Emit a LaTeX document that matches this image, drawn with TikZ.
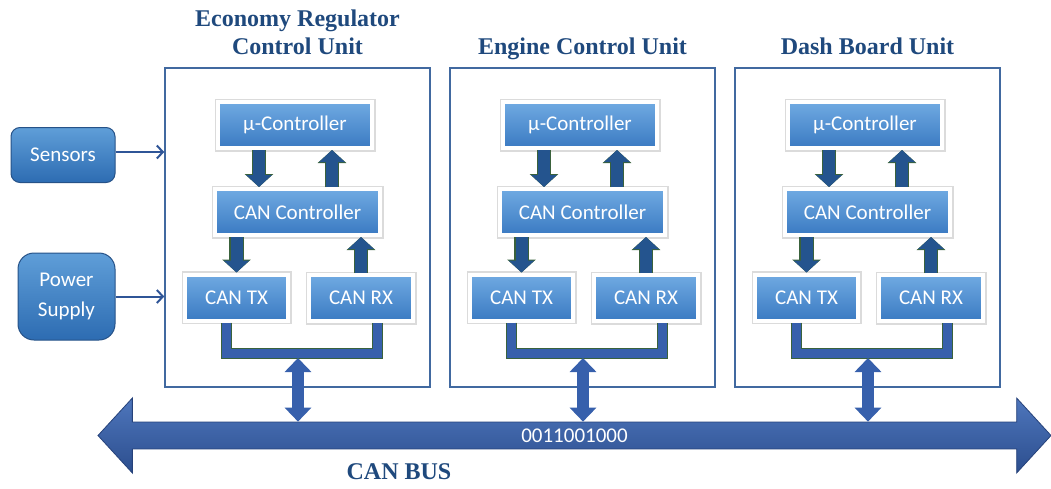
\documentclass[tikz,border=0pt]{standalone}
\usepackage{fontspec}
\setmainfont{Carlito}
\newfontfamily\titlefont{Liberation Serif}
\usepackage{tikz}
\usetikzlibrary{positioning,arrows.meta,shapes.arrows,shadows}

\definecolor{titleblue}{RGB}{31,73,125}
\definecolor{unitline}{RGB}{65,105,160}
\definecolor{boxtop}{RGB}{112,170,226}
\definecolor{boxbot}{RGB}{58,122,194}
\definecolor{sidetop}{RGB}{95,158,216}
\definecolor{sidebot}{RGB}{45,108,178}
\definecolor{sideline}{RGB}{38,82,136}
\definecolor{flowblue}{RGB}{36,84,142}
\definecolor{flowgreen}{RGB}{58,98,60}
\definecolor{feedblue}{RGB}{47,85,151}
\definecolor{bustop}{RGB}{78,118,188}
\definecolor{busbot}{RGB}{44,78,142}
\definecolor{busline}{RGB}{38,66,122}
\definecolor{linkblue}{RGB}{55,96,172}

\begin{document}
\begin{tikzpicture}[x=1pt,y=-1pt,
    unit/.style={draw=unitline, line width=1.5pt, minimum width=265pt, minimum height=319pt},
    title/.style={font=\titlefont\bfseries\fontsize{24}{28}\selectfont, text=titleblue, align=center,
                  inner sep=0pt, text depth=0pt},
    blk/.style={draw=white, line width=4pt, top color=boxtop, bottom color=boxbot, text=white,
                minimum height=46pt, outer sep=2pt, font=\fontsize{21}{25}\selectfont,
                preaction={draw=black!14, line width=7pt},
                drop shadow={opacity=0.3, shadow xshift=1.5pt, shadow yshift=-1.5pt}},
    side/.style={draw=sideline, line width=1pt, top color=sidetop, bottom color=sidebot, text=white,
                 align=center, font=\fontsize{21}{30}\selectfont},
    flow/.style={line width=12pt, draw=flowblue, -{Triangle[width=25pt,length=12pt]},
                 preaction={draw=flowgreen, line width=14.5pt, -{Triangle[width=28pt,length=13pt]}}},
    ubar/.style={draw=flowgreen, line width=1pt, double=linkblue, double distance=9pt, line join=miter},
    link/.style={line width=12pt, draw=linkblue, {Triangle[width=26pt,length=14pt]}-{Triangle[width=26pt,length=14pt]}},
    feed/.style={draw=feedblue, line width=2pt, -{Straight Barb[length=6pt,width=13pt]}}]
  \useasboundingbox (0,0) rectangle (1051,488);

  \node[double arrow, double arrow head extend=19pt, double arrow tip angle=95,
        minimum height=953pt, minimum width=75pt, draw=busline, line width=0.8pt,
        top color=bustop, bottom color=busbot, text=white, font=\fontsize{21}{24}\selectfont] (bus) at (574.5,435.5) {0011001000};
  \node[title] (lbl) at (399,472) {CAN BUS};

  \foreach \i/\dx/\ttl in {1/0/{Economy Regulator\\Control Unit}, 2/285/Engine Control Unit, 3/570/Dash Board Unit} {
    \node[unit] (u\i) at (297.5+\dx,227.5) {};
    \node[title, above=13pt of u\i] (t\i) {\ttl};

    \node[blk, minimum width=154pt] (mc\i) at (295+\dx,125) {µ-Controller};
    \node[blk, minimum width=165pt] (cc\i) at (297.5+\dx,212) {CAN Controller};
    \node[blk, minimum width=103pt] (tx\i) at (236.5+\dx,297.5) {CAN TX};
    \node[blk, minimum width=104pt] (rx\i) at (361+\dx,298) {CAN RX};
    \coordinate (j\i) at (298+\dx,353);

    \draw[flow] ([xshift=-36pt]mc\i.south) -- ([xshift=-36pt]mc\i.south |- cc\i.north);
    \draw[flow] ([xshift=37pt]mc\i.south |- cc\i.north) -- ([xshift=37pt]mc\i.south);
    \draw[flow] (cc\i.south -| tx\i.north) -- (tx\i.north);
    \draw[flow] (rx\i.north) -- (rx\i.north |- cc\i.south);
    \draw[ubar] ([xshift=-10pt]tx\i.south) |- (j\i) -| ([xshift=16pt]rx\i.south);
    \draw[link] ([yshift=-5pt]j\i) -- (j\i |- bus.north);
  }

  \node[side, minimum width=104pt, minimum height=55pt, rounded corners=9pt] (sens) at (63,155) {Sensors};
  \node[side, minimum width=97pt, minimum height=87pt, rounded corners=16pt] (pwr) at (66.5,296.5) {Power\\Supply};
  \draw[feed] ([yshift=3pt]sens.east) -- ([yshift=3pt]sens.east -| u1.west);
  \draw[feed] (pwr.east) -- (pwr.east -| u1.west);
\end{tikzpicture}
\end{document}
